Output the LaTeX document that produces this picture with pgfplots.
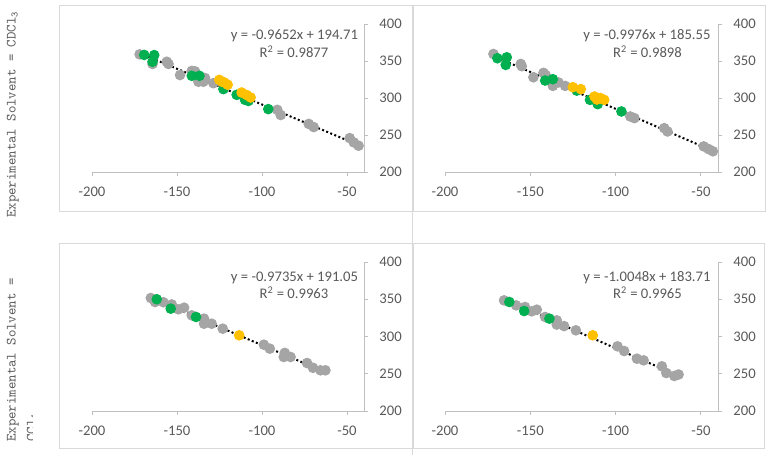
\documentclass[border=0pt]{standalone}
\usepackage{pgfplots}
\pgfplotsset{compat=1.18}
\usepackage{fontspec}
\setmainfont{Carlito}
\definecolor{mgray}{RGB}{165,165,165}
\definecolor{mgreen}{RGB}{0,176,80}
\definecolor{morange}{RGB}{255,192,0}
\definecolor{txtgray}{RGB}{89,89,89}
\definecolor{axisgray}{RGB}{191,191,191}
\definecolor{framegray}{RGB}{217,217,217}
\pgfplotsset{
  panel/.style={
    scale only axis, anchor=south west, clip=false,
    xmin=-200, xmax=-40, ymin=200, ymax=400,
    axis x line=bottom, axis y line=right,
    axis line style={draw=axisgray, line width=0.75pt, -},
    xtick={-200,-150,-100,-50}, xticklabels={-200,-150,-100,-50},
    ytick={200,250,300,350,400}, yticklabels={200,250,300,350,400},
    tick align=outside, major tick length=3pt,
    tick style={draw=axisgray, line width=0.75pt},
    tick label style={font=\fontsize{11}{13}\selectfont, text=txtgray},
    xticklabel style={yshift=-5pt},
    yticklabel style={xshift=5pt},
  },
  gr/.style={only marks, mark=*, mark size=3.6pt, mark options={draw=mgray, fill=mgray, line width=0.75pt}},
  gn/.style={only marks, mark=*, mark size=3.6pt, mark options={draw=mgreen, fill=mgreen, line width=0.75pt}},
  og/.style={only marks, mark=*, mark size=3.6pt, mark options={draw=morange, fill=morange, line width=0.75pt}},
  tl/.style={black, line width=1.5pt, dash pattern=on 1.5pt off 1.8pt, no marks},
}
\begin{document}
\begin{tikzpicture}[x=0.75pt, y=0.75pt]
\useasboundingbox (0,0) rectangle (771,455);
\coordinate (p1) at (92,283);
\coordinate (p2) at (445,283);
\coordinate (p3) at (92,44);
\coordinate (p4) at (445,44);
% frames
\draw[framegray, line width=0.75pt] (59,244) rectangle (412,450);
\draw[framegray, line width=0.75pt] (413,244) rectangle (765,450);
\draw[framegray, line width=0.75pt] (59,7) rectangle (412,212);
\draw[framegray, line width=0.75pt] (413,7) rectangle (764,212);
\draw[framegray, line width=1.2pt] (412.5,0) -- (412.5,450);
% side labels
\node[rotate=90, anchor=base west, text=txtgray, font=\ttfamily\fontsize{10.6}{12}\selectfont, inner sep=0pt] at (15.5,237) {Experimental Solvent = CDCl\textsubscript{3}};
\node[rotate=90, anchor=base west, text=txtgray, font=\ttfamily\fontsize{10.6}{12}\selectfont, inner sep=0pt] at (15.5,13) {Experimental Solvent =};
\begin{scope}
\clip (20,0) rectangle (32,455);
\node[rotate=90, anchor=base west, text=txtgray, font=\ttfamily\fontsize{10.6}{12}\selectfont, inner sep=0pt] at (35.5,13) {CCl\textsubscript{4}};
\end{scope}

% Panel 1
\begin{axis}[panel, at={(p1)}, width=204pt, height=111pt]
\addplot[gr] coordinates {(-172,359) (-164.4,346) (-156,349) (-155,346) (-148.2,331) (-141.3,336.6) (-139.4,336) (-137.4,322) (-134.5,322) (-133.5,327) (-128.6,320) (-91,284) (-89,277) (-72.5,265) (-69.6,260.7) (-48.4,245.8) (-46,240) (-43.2,235.5)};
\addplot[gn] coordinates {(-169.3,358.2) (-163.4,358) (-164.4,349) (-141.3,330) (-136.8,330) (-122.7,312) (-114.9,304.3) (-110,297.5) (-108,296) (-96.3,285)};
\addplot[og] coordinates {(-125.1,324.5) (-123.5,322) (-122.2,321) (-120.2,318) (-112,307.4) (-109,304) (-106.7,300.7)};
\addplot[tl] coordinates {(-172,360.72) (-43,236.21)};
\end{axis}
\node[anchor=base, text=txtgray, font=\fontsize{11}{13}\selectfont, inner sep=0pt] at (294.5,415.5) {y = -0.9652x + 194.71};
\node[anchor=base, text=txtgray, font=\fontsize{11}{13}\selectfont, inner sep=0pt] at (294,397.5) {R\textsuperscript{2} = 0.9877};

% Panel 2
\begin{axis}[panel, at={(p2)}, width=204.75pt, height=111pt]
\addplot[gr] coordinates {(-171.6,359.5) (-155.6,346) (-155,343) (-148.2,328) (-142.3,334) (-141,331) (-136.8,316.4) (-133.5,321) (-129.6,316.4) (-91.4,275) (-89,272.8) (-71.5,259.3) (-69.6,254.8) (-48.4,234.6) (-45.5,231) (-43,228)};
\addplot[gn] coordinates {(-169.3,353.7) (-163.8,355) (-164.4,344.7) (-141.3,323.6) (-136.8,325.4) (-122.8,310) (-115,297.5) (-110.5,291.7) (-96.6,281.8)};
\addplot[og] coordinates {(-125.1,314.6) (-120.4,312) (-112.4,302) (-111,298) (-109,300) (-106.7,297.5)};
\addplot[tl] coordinates {(-172,357.14) (-43,228.45)};
\end{axis}
\node[anchor=base, text=txtgray, font=\fontsize{11}{13}\selectfont, inner sep=0pt] at (647,415.5) {y = -0.9976x + 185.55};
\node[anchor=base, text=txtgray, font=\fontsize{11}{13}\selectfont, inner sep=0pt] at (647.5,397.5) {R\textsuperscript{2} = 0.9898};

% Panel 3
\begin{axis}[panel, at={(p3)}, width=204pt, height=111.75pt]
\addplot[gr] coordinates {(-165.4,351.7) (-162.9,346.3) (-158,346) (-153.1,343) (-149.2,336.5) (-145.8,338.7) (-141.3,328.4) (-134.1,324) (-134.1,317.2) (-129.6,317.2) (-123.1,310.5) (-98.9,289) (-95.4,283.7) (-87.2,272.5) (-86.6,278) (-83.2,272.5) (-73.5,264.4) (-70,258) (-65.6,254.6) (-62.7,254.6)};
\addplot[gn] coordinates {(-161.9,350) (-153.7,337.4) (-138.8,326.2)};
\addplot[og] coordinates {(-113.4,301.6)};
\addplot[tl] coordinates {(-165.5,352.16) (-63,252.38)};
\end{axis}
\node[anchor=base, text=txtgray, font=\fontsize{11}{13}\selectfont, inner sep=0pt] at (294.5,173.8) {y = -0.9735x + 191.05};
\node[anchor=base, text=txtgray, font=\fontsize{11}{13}\selectfont, inner sep=0pt] at (294,156.5) {R\textsuperscript{2} = 0.9963};

% Panel 4
\begin{axis}[panel, at={(p4)}, width=204.75pt, height=111.75pt]
\addplot[gr] coordinates {(-165.4,348.5) (-158.3,341.8) (-153.1,339.6) (-149.2,333.8) (-146.2,336) (-141.3,326.2) (-134.5,321.7) (-134.5,316) (-130.2,314) (-123.3,308.3) (-98.9,286.8) (-95,280.5) (-87.5,270.2) (-83.6,268) (-72.9,260) (-70.3,251) (-65.6,247) (-63.1,249)};
\addplot[gn] coordinates {(-162.3,346.3) (-153.6,334.2) (-138.8,324)};
\addplot[og] coordinates {(-113.4,301.6)};
\addplot[tl] coordinates {(-165.5,350.0) (-63,247.01)};
\end{axis}
\node[anchor=base, text=txtgray, font=\fontsize{11}{13}\selectfont, inner sep=0pt] at (647,173.8) {y = -1.0048x + 183.71};
\node[anchor=base, text=txtgray, font=\fontsize{11}{13}\selectfont, inner sep=0pt] at (647.5,156.5) {R\textsuperscript{2} = 0.9965};
\end{tikzpicture}
\end{document}
